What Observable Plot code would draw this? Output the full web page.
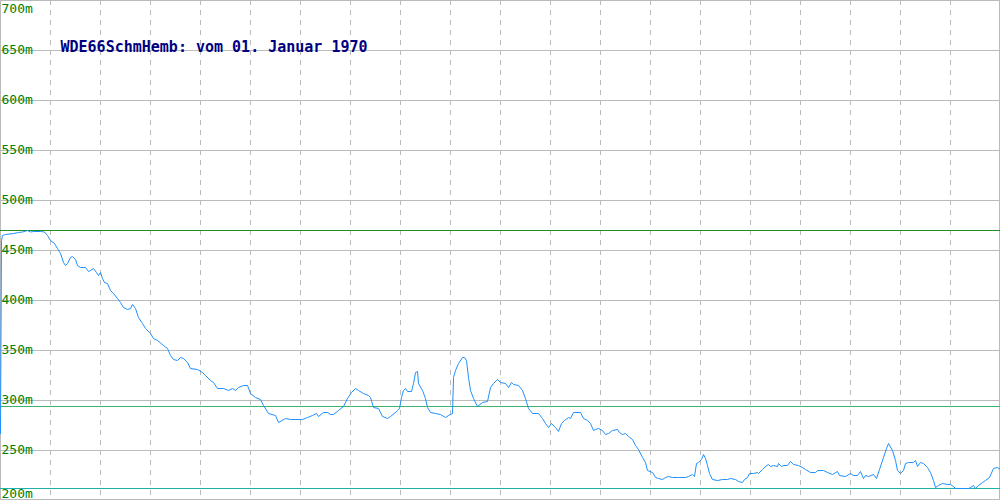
<!DOCTYPE html>
<html>
<head>
<meta charset="utf-8">
<script src="https://cdn.jsdelivr.net/npm/d3@7"></script>
<script src="https://cdn.jsdelivr.net/npm/@observablehq/plot@0.6"></script>
<style>
  html, body { margin: 0; padding: 0; background: #fff; }
  #chart svg { display: block; }
</style>
</head>
<body>
<div id="chart"></div>
<script>
// Track position (pixel-equivalent index along the route)
const positions = [0,1,2,5,13,18,22,27,30,33,40,44,47,50,54,57,60,63,65,67,70,72,75,77,80,85,88,90,93,96,98,100,102,104,107,110,113,117,120,123,127,130,132,135,138,142,145,150,153,157,163,167,170,173,177,180,183,187,190,197,202,205,210,213,217,223,228,232,235,238,243,247,250,255,260,263,268,275,278,285,290,302,307,312,316,318,323,327,330,333,338,343,347,351,355,358,363,368,370,373,378,382,387,390,395,397,399,401,403,405,407,411,413,415,417,418,422,425,427,430,435,440,445,448,452,453,455,458,462,464,466,468,470,473,477,482,487,490,493,497,500,505,508,511,513,518,522,525,528,532,538,542,545,548,551,555,558,561,564,568,570,573,580,583,587,590,593,595,598,602,605,608,612,617,619,622,625,628,632,635,638,642,645,647,652,655,658,662,665,668,672,678,685,688,692,694,696,698,701,703,705,707,709,712,717,722,727,730,735,738,742,744,747,749,753,757,758,762,765,768,770,773,777,778,781,783,787,790,793,798,802,805,810,815,817,823,827,832,837,839,845,850,853,857,860,863,865,868,873,876,879,883,886,888,892,895,897,900,903,905,908,913,915,917,920,923,927,930,933,935,938,942,947,950,953,955,960,968,970,973,975,978,982,985,989,993,997,1000];
// Elevation in metres
const elevations = [267,460,465,466,467,468,468.5,470,468.5,469,469,468.5,465,460,457,452,447,438,435,437,443,444,441,435,433,433,429,430,432,428,425,428,422,418,417,410,407,402,398,393,391,392,396,392,383,377,372,367,362,360,355,352,345,341,340,343,342,338,332,331,328,325,320,318,312,312,310,312,310,313,315,315,307,303,301,295,287,285,278,282,281,281,283,285,287,284,288,288,286,286,290,294,302,308,312,310,307,305,303,293,292,284,282,284,288,290,292,303,310,312,309,309,317,328,329,317,310,302,293,288,287,286,283,285,287,323,330,337,343,343,340,323,310,302,294,298,299,313,317,321,318,317,313,318,316,315,310,302,292,287,287,282,277,273,277,273,269,277,280,283,282,288,288,282,280,277,270,271,272,270,266,267,270,271,268,266,267,264,261,255,251,243,238,230,228,223,222,221,223,224,223,223,223,224,226,224,237,238,241,246,242,235,227,221,220,221,221,222,221,219,218,221,223,227,227,228,227,231,234,236,234,235,234,237,234,235,235,239,236,235,233,231,228,228,230,230,228,226,229,225,224,227,225,225,229,222,225,224,226,222,231,243,252,257,250,240,230,227,230,237,238,238,240,234,238,237,233,228,220,213,215,217,216,216,214,212,212,212,213,215,212,215,218,220,223,232,233,231];

const yTicks = [200,250,300,350,400,450,500,550,600,650,700];
const xGrid = [50,100,150,200,250,300,350,400,450,500,550,600,650,700,750,800,850,900,950];
const maxElevation = 470;
const avgElevation = 294;
const minElevation = 212;
const title = "WDE66SchmHemb: vom 01. Januar 1970";

const data = positions.map((p, i) => ({pos: p, elev: elevations[i]}));
const midTicks = yTicks.filter(t => t !== 200 && t !== 700);

const fontMono = "'DejaVu Sans Mono', 'Liberation Mono', monospace";

const chart = Plot.plot({
  width: 1000,
  height: 500,
  margin: 0,
  x: {domain: [0, 1000], axis: null},
  y: {domain: [200, 700], axis: null},
  style: {background: "#fff", fontFamily: fontMono},
  marks: [
    Plot.ruleX(xGrid, {stroke: "#bbbbbb", strokeDasharray: "5,5", strokeOpacity: 1}),
    Plot.ruleY(yTicks.filter(t => t !== 200), {stroke: "#bbbbbb", strokeOpacity: 1}),
    Plot.ruleY([200], {stroke: "#bbbbbb", strokeOpacity: 1, dy: -1}),
    Plot.ruleX([0], {stroke: "#bbbbbb", strokeOpacity: 1}),
    Plot.ruleX([1000], {stroke: "#bbbbbb", strokeOpacity: 1, dx: -1}),
    Plot.text(midTicks, {y: d => d, text: d => d + "m", frameAnchor: "left", textAnchor: "start", dx: 1, dy: -1, fill: "#008000", fontSize: 13, fontFamily: fontMono}),
    Plot.text([700], {y: d => d, text: d => d + "m", frameAnchor: "left", textAnchor: "start", dx: 1, dy: 8, fill: "#008000", fontSize: 13, fontFamily: fontMono}),
    Plot.text([200], {y: d => d, text: d => d + "m", frameAnchor: "left", textAnchor: "start", dx: 1, dy: -7, fill: "#008000", fontSize: 13, fontFamily: fontMono}),
    Plot.ruleY([maxElevation], {stroke: "#228b22", strokeOpacity: 1}),
    Plot.ruleY([avgElevation], {stroke: "#3cb371", strokeOpacity: 1}),
    Plot.ruleY([minElevation], {stroke: "#20b2aa", strokeOpacity: 1}),
    Plot.line(data, {x: "pos", y: "elev", stroke: "#1e90ff", strokeWidth: 1}),
    Plot.text([title], {text: d => d, frameAnchor: "top-left", dx: 60, dy: 41, lineAnchor: "top", textAnchor: "start", fill: "#000080", fontSize: 15, fontWeight: "bold", fontFamily: fontMono})
  ]
});
document.getElementById("chart").appendChild(chart);
</script>
</body>
</html>
